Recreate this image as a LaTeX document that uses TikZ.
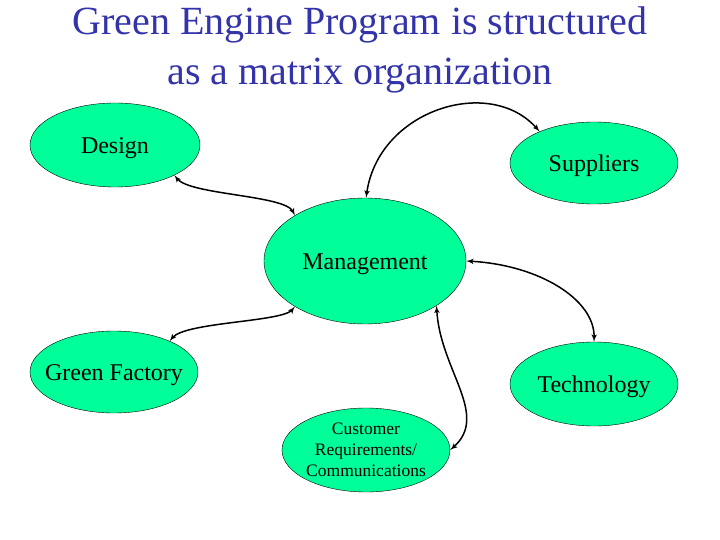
\documentclass[tikz,border=0pt]{standalone}
\usepackage{fontspec}
\setmainfont{Liberation Serif}
\usetikzlibrary{shapes,arrows}
\usetikzlibrary{positioning}
\definecolor{springgreen}{RGB}{0,255,153}
\definecolor{titleblue}{RGB}{51,51,170}
\tikzstyle{cloud} = [draw, ellipse, fill=springgreen, inner sep=0pt,
minimum width=168pt, minimum height=82pt]
\tikzstyle{line} = [draw, latex'-latex', line width=1.5pt]

\begin{document}
\begin{tikzpicture}[x=1pt, y=-1pt,
	tag/.style={font=\fontsize{24}{28}\selectfont, yshift=-3pt},
	smalltag/.style={font=\fontsize{17.5}{21}\selectfont, align=center}]
	\useasboundingbox (0,0) rectangle (720,540);
	\node [font=\fontsize{40}{50}\selectfont, text=titleblue, align=center] (Title) at (360,50)
		{Green Engine Program is structured\\as a matrix organization};
	%% Groups
	\node [cloud, minimum width=170pt, minimum height=84pt, label={[tag]center:Design}] (Design) at (115,145) {};
	\node [cloud, label={[tag]center:Suppliers}] (Suppliers) at (594,163) {};
	\node [cloud, minimum width=202pt, minimum height=126pt, label={[tag]center:Management}] (Mgmt) at (365,261) {};
	\node [cloud, label={[tag]center:Green Factory}] (Factory) at (114,372) {};
	\node [cloud, minimum height=84pt, label={[tag]center:Technology}] (Tech) at (594,384) {};
	\node [cloud, minimum height=84pt, label={[smalltag]center:Customer\\Requirements/\\Communications}] (Customer) at (366,450) {};
	%% Links
	\path [line] (Design.-27) .. controls (190,195) and (285,195) .. (Mgmt.147);
	\path [line] (Mgmt.89) .. controls (378,110) and (490,75) .. (Suppliers.150);
	\path [line] (Mgmt.0) .. controls (540,265) and (595,300) .. (Tech.90);
	\path [line] (Factory.29) .. controls (185,322) and (282,322) .. (Mgmt.213);
	\path [line] (Mgmt.-32) .. controls (440,370) and (490,415) .. (Customer.0);
\end{tikzpicture}
\end{document}
